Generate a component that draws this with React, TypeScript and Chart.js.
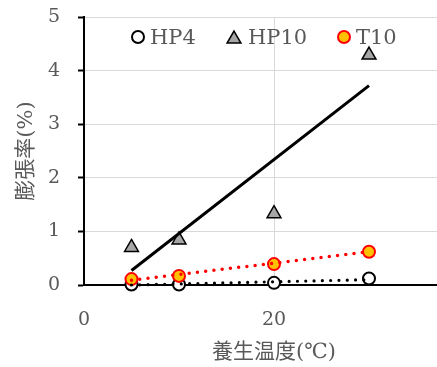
import React, { useEffect, useRef } from "react";
import { Chart, registerables } from "chart.js";

Chart.register(...registerables);

// ---- data ----
const curingTemps = [5, 10, 20, 30];
const hp4Values = [0.01, 0.01, 0.04, 0.12];
const hp10Values = [0.7, 0.84, 1.33, 4.29];
const t10Values = [0.11, 0.17, 0.39, 0.62];
const trendTemps = [5, 30];
const hp4Trend = [0.0, 0.1];
const hp10Trend = [0.27, 3.72];
const t10Trend = [0.09, 0.62];
const seriesNames = ["HP4", "HP10", "T10"];
const xTickValues = [0, 20, 40];
const yTickValues = [0, 1, 2, 3, 4, 5];
const xTitle = "養生温度(℃)";
const yTitle = "膨張率(%)";

const TEXT = "#595959";
const GRID = "#d9d9d9";
const SERIF = '"DejaVu Serif", "Noto Sans CJK JP", serif';

const toPoints = (xs: number[], ys: number[]) => xs.map((x, i) => ({ x, y: ys[i] }));

function drawTriangle(ctx: CanvasRenderingContext2D, x: number, y: number, r: number) {
  const s = Math.sin(Math.PI / 3) * r;
  ctx.beginPath();
  ctx.moveTo(x, y - r);
  ctx.lineTo(x + s, y + r / 2);
  ctx.lineTo(x - s, y + r / 2);
  ctx.closePath();
}

const legendPlugin = {
  id: "insideLegend",
  afterDraw(chart: any) {
    const { ctx, chartArea } = chart;
    const L = chartArea.left;
    const T = chartArea.top;
    ctx.save();
    ctx.font = `21px ${SERIF}`;
    ctx.textBaseline = "alphabetic";
    ctx.textAlign = "left";
    // HP4 marker
    ctx.beginPath();
    ctx.arc(L + 54, T + 20, 6, 0, Math.PI * 2);
    ctx.fillStyle = "#ffffff";
    ctx.fill();
    ctx.lineWidth = 2;
    ctx.strokeStyle = "#000000";
    ctx.stroke();
    // HP10 marker
    drawTriangle(ctx, L + 150, T + 22, 8);
    ctx.fillStyle = "#a6a6a6";
    ctx.fill();
    ctx.lineWidth = 1.5;
    ctx.strokeStyle = "#000000";
    ctx.stroke();
    // T10 marker
    ctx.beginPath();
    ctx.arc(L + 260, T + 20, 6, 0, Math.PI * 2);
    ctx.fillStyle = "#ffc000";
    ctx.fill();
    ctx.lineWidth = 2;
    ctx.strokeStyle = "#ff0000";
    ctx.stroke();
    // texts
    ctx.fillStyle = TEXT;
    ctx.fillText(seriesNames[0], L + 66, T + 27);
    ctx.fillText(seriesNames[1], L + 164, T + 27);
    ctx.fillText(seriesNames[2], L + 272, T + 27);
    ctx.restore();
  },
};

const noScalePadding = (scale: any) => {
  scale.paddingTop = 0;
  scale.paddingBottom = 0;
  scale.paddingLeft = 0;
  scale.paddingRight = 0;
};

export default function App() {
  const ref = useRef<HTMLCanvasElement | null>(null);

  useEffect(() => {
    if (!ref.current) return;
    const chart = new Chart(ref.current, {
      type: "scatter",
      data: {
        datasets: [
          {
            label: "HP4 trend",
            type: "line",
            data: toPoints(trendTemps, hp4Trend),
            borderColor: "#000000",
            borderWidth: 3.2,
            borderDash: [0, 8.3],
            borderCapStyle: "round",
            pointRadius: 0,
            fill: false,
            order: 0,
            clip: false,
          } as any,
          {
            label: "HP10 trend",
            type: "line",
            data: toPoints(trendTemps, hp10Trend),
            borderColor: "#000000",
            borderWidth: 3,
            pointRadius: 0,
            fill: false,
            order: 0,
            clip: false,
          } as any,
          {
            label: "T10 trend",
            type: "line",
            data: toPoints(trendTemps, t10Trend),
            borderColor: "#ff0000",
            borderWidth: 3.5,
            borderDash: [0, 8.3],
            borderCapStyle: "round",
            pointRadius: 0,
            fill: false,
            order: 0,
            clip: false,
          } as any,
          {
            label: seriesNames[0],
            data: toPoints(curingTemps, hp4Values),
            pointStyle: "circle",
            pointRadius: 6,
            pointBorderWidth: 2,
            pointBackgroundColor: "#ffffff",
            pointBorderColor: "#000000",
            order: 3,
            clip: false,
          } as any,
          {
            label: seriesNames[1],
            data: toPoints(curingTemps, hp10Values),
            pointStyle: "triangle",
            pointRadius: 8,
            pointBorderWidth: 1.5,
            pointBackgroundColor: "#a6a6a6",
            pointBorderColor: "#000000",
            order: 2,
            clip: false,
          } as any,
          {
            label: seriesNames[2],
            data: toPoints(curingTemps, t10Values),
            pointStyle: "circle",
            pointRadius: 6,
            pointBorderWidth: 2,
            pointBackgroundColor: "#ffc000",
            pointBorderColor: "#ff0000",
            order: 1,
            clip: false,
          } as any,
        ],
      },
      options: {
        animation: false,
        responsive: false,
        events: [],
        layout: { padding: { left: 0, top: 17, right: 16, bottom: 0 } },
        plugins: {
          legend: { display: false },
          tooltip: { enabled: false },
        },
        scales: {
          x: {
            type: "linear",
            min: xTickValues[0],
            max: xTickValues[xTickValues.length - 1],
            afterBuildTicks: (scale: any) => {
              scale.ticks = xTickValues.map((v) => ({ value: v }));
            },
            afterFit: (scale: any) => {
              scale.height = 82;
              noScalePadding(scale);
            },
            grid: { color: GRID, lineWidth: 1, drawTicks: false },
            border: { color: "#000000", width: 2 },
            ticks: {
              color: TEXT,
              font: { family: SERIF, size: 19 },
              padding: 24,
              maxRotation: 0,
            },
            title: {
              display: true,
              text: xTitle,
              color: TEXT,
              font: { family: SERIF, size: 21 },
              padding: { top: 0, bottom: 2 },
            },
          },
          y: {
            type: "linear",
            min: yTickValues[0],
            max: yTickValues[yTickValues.length - 1],
            afterBuildTicks: (scale: any) => {
              scale.ticks = yTickValues.map((v) => ({ value: v }));
            },
            afterFit: (scale: any) => {
              scale.width = 84;
              noScalePadding(scale);
            },
            grid: {
              color: GRID,
              lineWidth: 1,
              tickColor: "#000000",
              tickWidth: 2,
              tickLength: 6,
            },
            border: { color: "#000000", width: 2 },
            ticks: {
              color: TEXT,
              font: { family: SERIF, size: 19 },
              padding: 18,
            },
            title: {
              display: true,
              text: yTitle,
              color: TEXT,
              font: { family: SERIF, size: 21 },
              padding: { top: 14, bottom: 0 },
            },
          },
        },
      } as any,
      plugins: [legendPlugin],
    });
    return () => chart.destroy();
  }, []);

  return (
    <div
      style={{
        position: "fixed",
        left: 0,
        top: 0,
        width: 437,
        height: 367,
        overflow: "hidden",
        background: "#ffffff",
      }}
    >
      <canvas ref={ref} width={480} height={367} style={{ display: "block" }} />
    </div>
  );
}
